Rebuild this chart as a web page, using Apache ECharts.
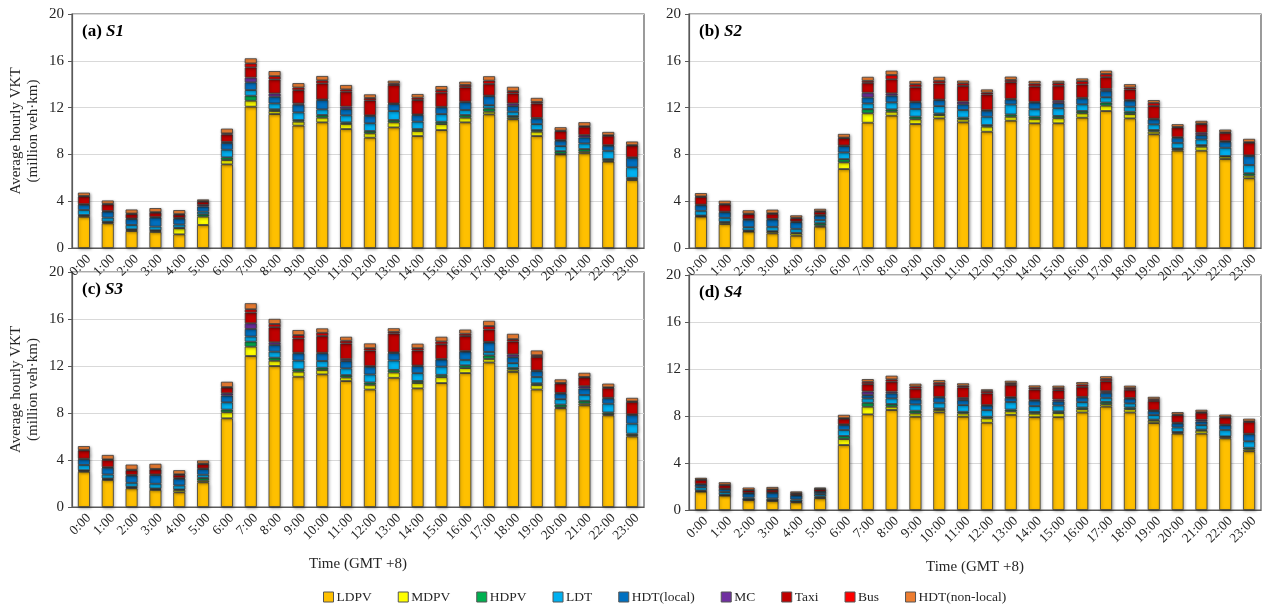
<!DOCTYPE html>
<html>
<head>
<meta charset="utf-8">
<script src="https://cdn.jsdelivr.net/npm/echarts@6/dist/echarts.min.js"></script>
<style>
  html, body { margin: 0; padding: 0; background: #fff; }
  #chart { width: 1266px; height: 613px; }
</style>
</head>
<body>
<div id="chart"></div>
<script>
// Hour-of-day categories
const hours = ['0:00','1:00','2:00','3:00','4:00','5:00','6:00','7:00','8:00','9:00','10:00','11:00',
  '12:00','13:00','14:00','15:00','16:00','17:00','18:00','19:00','20:00','21:00','22:00','23:00'];

// Vehicle types (stack order bottom to top)
const vehicleTypes = ['LDPV','MDPV','HDPV','LDT','HDT(local)','MC','Taxi','Bus','HDT(non-local)'];
const typeColors = ['#FFC000','#FFFF00','#00B050','#00B0F0','#0070C0','#7030A0','#C00000','#FF0000','#ED7D31'];

// Y-axis ticks (million veh·km)
const yTicks = [0, 4, 8, 12, 16, 20];

// Scenario S1
const s1LDPV = [2.67,2.11,1.45,1.37,1.17,1.97,7.15,12.08,11.45,10.46,10.74,10.17,9.43,10.31,9.57,10.08,10.74,11.42,11.0,9.57,8.0,8.09,7.38,5.8];
const s1MDPV = [0.1,0.1,0.1,0.1,0.51,0.71,0.37,0.51,0.26,0.34,0.4,0.43,0.37,0.43,0.43,0.51,0.4,0.23,0.14,0.37,0.05,0.14,0.08,0.1];
const s1HDPV = [0.05,0.05,0.05,0.05,0.05,0.2,0.23,0.43,0.15,0.14,0.23,0.14,0.2,0.2,0.17,0.2,0.23,0.28,0.14,0.14,0.23,0.23,0.14,0.1];
const s1LDT  = [0.43,0.34,0.37,0.31,0.28,0.23,0.65,0.48,0.5,0.65,0.48,0.6,0.66,0.77,0.63,0.66,0.43,0.28,0.37,0.51,0.43,0.48,0.71,0.9];
const s1HDTL = [0.45,0.51,0.51,0.77,0.51,0.43,0.57,0.66,0.57,0.66,0.8,0.54,0.63,0.6,0.57,0.57,0.66,0.77,0.48,0.48,0.46,0.51,0.43,0.8];
const s1MC   = [0.05,0.05,0.05,0.05,0.05,0.14,0.1,0.4,0.28,0.1,0.05,0.2,0.05,0.05,0.05,0.05,0.05,0.05,0.23,0.05,0.05,0.2,0.05,0.05];
const s1Taxi = [0.65,0.57,0.37,0.37,0.28,0.28,0.63,0.88,1.2,1.14,1.37,1.28,1.28,1.57,1.23,1.2,1.23,1.0,0.85,1.23,0.77,0.71,0.8,1.0];
const s1Bus  = [0.05,0.05,0.05,0.05,0.05,0.05,0.1,0.34,0.28,0.23,0.26,0.2,0.2,0.14,0.2,0.23,0.2,0.28,0.2,0.14,0.05,0.05,0.05,0.05];
const s1HDTN = [0.28,0.28,0.34,0.34,0.34,0.14,0.4,0.43,0.43,0.37,0.37,0.37,0.31,0.23,0.31,0.34,0.28,0.37,0.37,0.34,0.28,0.34,0.28,0.3];

// Scenario S2
const s2LDPV = [2.68,2.05,1.4,1.25,1.05,1.82,6.75,10.71,11.31,10.6,11.08,10.74,9.94,10.88,10.66,10.66,11.14,11.71,11.08,9.72,8.32,8.32,7.61,5.96];
const s2MDPV = [0.05,0.14,0.05,0.14,0.2,0.1,0.57,0.8,0.34,0.4,0.28,0.26,0.43,0.34,0.37,0.43,0.37,0.46,0.37,0.23,0.14,0.34,0.2,0.23];
const s2HDPV = [0.05,0.05,0.05,0.05,0.05,0.2,0.28,0.37,0.2,0.23,0.14,0.14,0.14,0.2,0.2,0.2,0.2,0.26,0.2,0.14,0.05,0.14,0.05,0.2];
const s2LDT  = [0.4,0.34,0.28,0.37,0.34,0.28,0.57,0.48,0.6,0.66,0.63,0.66,0.71,0.85,0.63,0.66,0.57,0.46,0.43,0.48,0.48,0.48,0.71,0.71];
const s2HDTL = [0.48,0.48,0.63,0.63,0.57,0.37,0.54,0.51,0.57,0.57,0.51,0.48,0.51,0.43,0.57,0.43,0.51,0.54,0.51,0.43,0.43,0.37,0.51,0.77];
const s2MC   = [0.05,0.05,0.05,0.05,0.05,0.05,0.05,0.4,0.2,0.05,0.05,0.23,0.05,0.05,0.05,0.2,0.05,0.17,0.05,0.05,0.05,0.2,0.05,0.05];
const s2Taxi = [0.65,0.6,0.43,0.43,0.28,0.28,0.63,0.85,1.2,1.23,1.37,1.34,1.34,1.42,1.34,1.28,1.14,1.0,0.91,1.08,0.83,0.74,0.71,1.08];
const s2Bus  = [0.05,0.05,0.05,0.05,0.05,0.05,0.05,0.17,0.37,0.26,0.23,0.23,0.17,0.2,0.23,0.23,0.28,0.28,0.17,0.28,0.05,0.05,0.05,0.05];
const s2HDTN = [0.28,0.28,0.28,0.31,0.2,0.2,0.31,0.34,0.37,0.28,0.34,0.23,0.26,0.28,0.23,0.2,0.23,0.28,0.28,0.23,0.23,0.23,0.23,0.28];

// Scenario S3
const s3LDPV = [3.0,2.3,1.59,1.45,1.25,2.1,7.55,12.85,12.0,11.09,11.29,10.72,10.0,11.0,10.1,10.55,11.4,12.3,11.5,10.0,8.4,8.65,7.8,6.0];
const s3MDPV = [0.08,0.08,0.08,0.08,0.2,0.14,0.51,0.8,0.45,0.43,0.37,0.31,0.4,0.45,0.45,0.5,0.42,0.3,0.2,0.38,0.08,0.15,0.1,0.12];
const s3HDPV = [0.05,0.05,0.05,0.05,0.05,0.23,0.23,0.43,0.26,0.2,0.2,0.2,0.2,0.22,0.18,0.2,0.24,0.3,0.15,0.15,0.24,0.24,0.15,0.12];
const s3LDT  = [0.45,0.34,0.34,0.4,0.34,0.28,0.62,0.43,0.51,0.74,0.57,0.57,0.68,0.8,0.66,0.7,0.46,0.3,0.4,0.54,0.46,0.5,0.74,0.85];
const s3HDTL = [0.48,0.57,0.62,0.74,0.57,0.48,0.57,0.65,0.57,0.62,0.65,0.62,0.66,0.64,0.6,0.6,0.7,0.8,0.5,0.5,0.48,0.54,0.46,0.75];
const s3MC   = [0.05,0.05,0.05,0.05,0.05,0.05,0.2,0.48,0.23,0.05,0.05,0.17,0.05,0.05,0.05,0.05,0.05,0.05,0.24,0.05,0.05,0.2,0.05,0.05];
const s3Taxi = [0.71,0.62,0.4,0.43,0.28,0.37,0.48,0.91,1.28,1.22,1.42,1.33,1.33,1.6,1.28,1.25,1.28,1.05,1.1,1.15,0.8,0.74,0.84,1.05];
const s3Bus  = [0.05,0.05,0.05,0.05,0.05,0.05,0.05,0.28,0.28,0.28,0.28,0.23,0.2,0.15,0.2,0.24,0.2,0.3,0.2,0.15,0.05,0.05,0.05,0.05];
const s3HDTN = [0.31,0.37,0.43,0.43,0.34,0.26,0.45,0.51,0.43,0.43,0.37,0.34,0.4,0.3,0.38,0.4,0.35,0.45,0.45,0.4,0.3,0.35,0.31,0.3];

// Scenario S4
const s4LDPV = [1.56,1.22,0.85,0.77,0.65,1.0,5.53,8.14,8.51,7.94,8.31,7.94,7.43,8.1,7.9,7.9,8.3,8.8,8.3,7.4,6.5,6.5,6.1,5.0];
const s4MDPV = [0.05,0.05,0.03,0.05,0.05,0.05,0.51,0.65,0.28,0.28,0.2,0.28,0.37,0.3,0.3,0.35,0.28,0.2,0.28,0.2,0.1,0.25,0.12,0.15];
const s4HDPV = [0.05,0.03,0.03,0.03,0.03,0.1,0.26,0.34,0.23,0.23,0.14,0.14,0.14,0.15,0.15,0.15,0.15,0.2,0.15,0.1,0.05,0.1,0.05,0.15];
const s4LDT  = [0.28,0.23,0.14,0.14,0.17,0.2,0.51,0.37,0.48,0.54,0.48,0.57,0.57,0.65,0.5,0.5,0.45,0.35,0.35,0.38,0.38,0.38,0.55,0.55];
const s4HDTL = [0.23,0.26,0.37,0.48,0.34,0.2,0.43,0.28,0.43,0.43,0.45,0.43,0.37,0.35,0.45,0.35,0.4,0.42,0.4,0.35,0.35,0.3,0.4,0.6];
const s4MC   = [0.03,0.03,0.03,0.03,0.03,0.03,0.05,0.31,0.14,0.05,0.05,0.17,0.05,0.05,0.05,0.15,0.05,0.14,0.05,0.05,0.05,0.15,0.05,0.05];
const s4Taxi = [0.37,0.31,0.23,0.23,0.14,0.2,0.48,0.62,0.85,0.85,1.0,0.91,1.0,1.05,0.9,0.8,0.85,0.85,0.7,0.8,0.65,0.6,0.6,1.0];
const s4Bus  = [0.03,0.03,0.03,0.03,0.03,0.03,0.05,0.2,0.2,0.2,0.2,0.14,0.2,0.15,0.15,0.18,0.2,0.2,0.15,0.15,0.05,0.05,0.05,0.05];
const s4HDTN = [0.14,0.2,0.2,0.2,0.14,0.1,0.28,0.23,0.31,0.23,0.23,0.2,0.14,0.2,0.2,0.2,0.2,0.22,0.2,0.2,0.2,0.2,0.2,0.22];

const scenarioLabels = ['(a) ', '(b) ', '(c) ', '(d) '];
const scenarioNames = ['S1', 'S2', 'S3', 'S4'];
const scenarioData = [
  [s1LDPV, s1MDPV, s1HDPV, s1LDT, s1HDTL, s1MC, s1Taxi, s1Bus, s1HDTN],
  [s2LDPV, s2MDPV, s2HDPV, s2LDT, s2HDTL, s2MC, s2Taxi, s2Bus, s2HDTN],
  [s3LDPV, s3MDPV, s3HDPV, s3LDT, s3HDTL, s3MC, s3Taxi, s3Bus, s3HDTN],
  [s4LDPV, s4MDPV, s4HDPV, s4LDT, s4HDTL, s4MC, s4Taxi, s4Bus, s4HDTN]
];

const FONT = "'Liberation Serif', 'Times New Roman', serif";
const AXIS_DARK = '#595959';
const TEXT = '#262626';

// Panel placement
const panels = [
  { left: 72,  top: 14,  width: 572, height: 234 },
  { left: 689, top: 14,  width: 572, height: 234 },
  { left: 72,  top: 272, width: 572, height: 235 },
  { left: 689, top: 275, width: 572, height: 235 }
];

const grids = panels.map(p => ({
  left: p.left, top: p.top, width: p.width, height: p.height,
  show: true, borderColor: AXIS_DARK, borderWidth: 1.2, backgroundColor: 'transparent'
}));

const xAxes = panels.map((p, i) => ({
  type: 'category', gridIndex: i, data: hours,
  name: i >= 2 ? 'Time (GMT +8)' : '',
  nameLocation: 'middle', nameGap: 50,
  nameTextStyle: { fontFamily: FONT, fontSize: 15, color: TEXT },
  axisLine: { lineStyle: { color: AXIS_DARK, width: 1.2 } },
  axisTick: { show: false },
  // slanted hour labels, nudged right so they hang just past each bar
  axisLabel: { rotate: 45, fontFamily: FONT, fontSize: 13.5, color: TEXT, margin: 14,
               padding: [0, -7, 0, 0], interval: 0 }
}));

const yAxes = panels.map((p, i) => ({
  type: 'value', gridIndex: i, min: yTicks[0], max: yTicks[yTicks.length - 1], interval: 4,
  name: (i % 2 === 0) ? 'Average hourly VKT\n(million veh·km)' : '',
  nameLocation: 'middle', nameRotate: 90, nameGap: 30,
  nameTextStyle: { fontFamily: FONT, fontSize: 15, color: TEXT, lineHeight: 17 },
  axisLine: { show: true, lineStyle: { color: AXIS_DARK, width: 1.2 } },
  axisTick: { show: true, inside: false, length: 4, lineStyle: { color: AXIS_DARK } },
  axisLabel: { fontFamily: FONT, fontSize: 15, color: TEXT, margin: 8 },
  splitLine: { show: true, lineStyle: { color: '#d9d9d9', width: 1.2 } }
}));

const titles = panels.map((p, i) => ({
  text: '{b|' + scenarioLabels[i] + '}{bi|' + scenarioNames[i] + '}',
  left: p.left + 5, top: p.top + 4,
  textStyle: {
    rich: {
      b:  { fontFamily: FONT, fontSize: 17, fontWeight: 'bold', color: '#000' },
      bi: { fontFamily: FONT, fontSize: 17, fontWeight: 'bold', fontStyle: 'italic', color: '#000' }
    }
  }
}));

const series = [];
scenarioData.forEach((lists, k) => {
  lists.forEach((values, t) => {
    series.push({
      name: vehicleTypes[t], type: 'bar', stack: 'scenario' + k,
      xAxisIndex: k, yAxisIndex: k, barWidth: 12,
      data: values,
      itemStyle: {
        color: typeColors[t], borderColor: '#3a3a3a', borderWidth: 0.8,
        shadowColor: 'rgba(0,0,0,0.35)', shadowBlur: 3, shadowOffsetX: 1, shadowOffsetY: 1
      },
      emphasis: { disabled: true }
    });
  });
});

const chart = echarts.init(document.getElementById('chart'), null, { renderer: 'canvas' });
chart.setOption({
  animation: false,
  backgroundColor: '#fff',
  title: titles,
  grid: grids,
  xAxis: xAxes,
  yAxis: yAxes,
  legend: {
    data: vehicleTypes, left: 318, top: 585,
    icon: 'rect', itemWidth: 10, itemHeight: 10, itemGap: 26,
    textStyle: { fontFamily: FONT, fontSize: 13.5, color: TEXT, padding: [0, 0, 0, -2] },
    itemStyle: { borderColor: '#555', borderWidth: 1 }
  },
  series: series
});
</script>
</body>
</html>
